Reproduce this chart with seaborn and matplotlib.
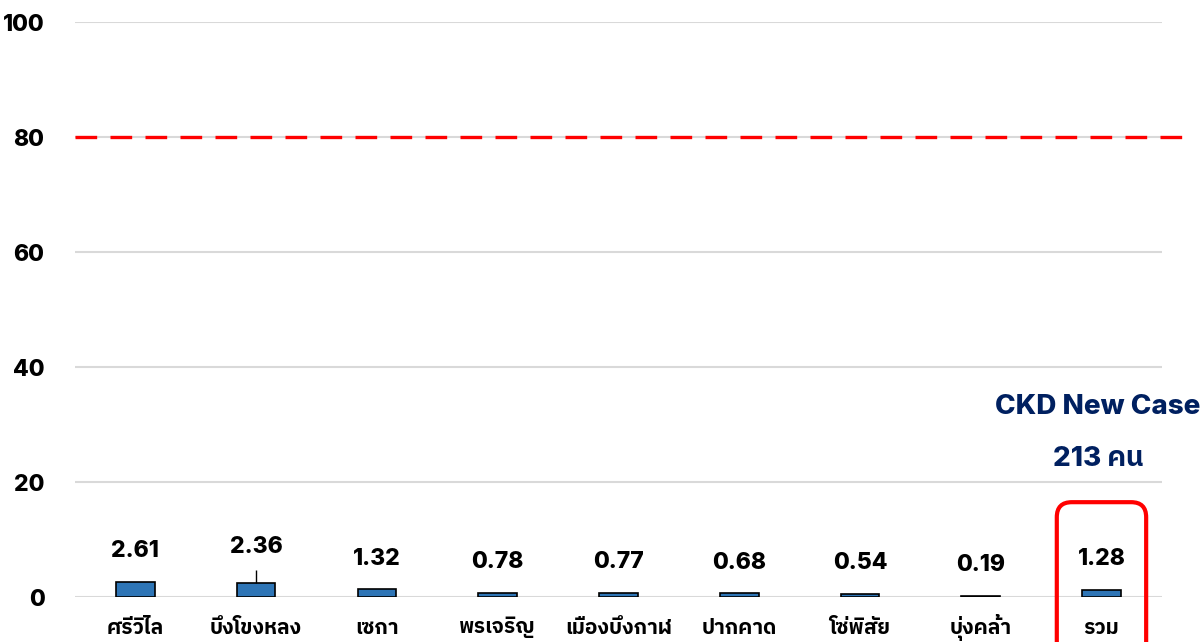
import matplotlib
matplotlib.use("Agg")
import matplotlib.pyplot as plt
from matplotlib.patches import FancyBboxPatch
import seaborn as sns
import pandas as pd
import numpy as np

categories = ["ศรีวิไล", "บึงโขงหลง", "เซกา", "พรเจริญ", "เมืองบึงกาฬ", "ปากคาด", "โซ่พิสัย", "บุ่งคล้า", "รวม"]
values = [2.61, 2.36, 1.32, 0.78, 0.77, 0.68, 0.54, 0.19, 1.28]
err_upper = [0, 2.3, 0, 0, 0, 0, 0, 0, 0]
y_ticks = [0, 20, 40, 60, 80, 100]
target = 80
note_lines = ["CKD New Case", "213 คน"]

sns.set_theme(style="white")
plt.rcParams["font.family"] = ["Inter", "IBM Plex Sans Thai", "Noto Sans Thai", "DejaVu Sans"]
W = 800

df = pd.DataFrame({"cat": categories, "val": values})
fig = plt.figure(figsize=(12.04, 6.42), dpi=100)
ax = fig.add_axes([0.0623, 0.070, 0.9027, 0.8957])
sns.barplot(data=df, x="cat", y="val", color="#2e75b6", width=0.32,
            edgecolor="black", linewidth=1.2, saturation=1, ax=ax, zorder=3)
ax.errorbar(np.arange(len(values)), values, yerr=[np.zeros(len(values)), err_upper],
            fmt="none", ecolor="black", elinewidth=1, capsize=0, zorder=4)
ax.set_ylim(0, 100)
ax.set_xlim(-0.5, len(categories) - 0.5)
ax.set_yticks(y_ticks)
ax.yaxis.grid(True, color="#d9d9d9", linewidth=1.5, zorder=0)
ax.set_axisbelow(True)
for s in ax.spines.values():
    s.set_visible(False)
ax.tick_params(axis="y", length=0, pad=22, labelsize=16.5, labelcolor="black")
ax.tick_params(axis="x", length=0, pad=22, labelsize=15, labelcolor="black")
for lab in ax.get_yticklabels():
    lab.set_fontweight(W)
for lab in ax.get_xticklabels():
    lab.set_fontweight(W)
    lab.set_verticalalignment("center")
ax.set_xlabel("")
ax.set_ylabel("")

ax.axhline(target, xmin=0, xmax=1.021, color="#ff0000", linewidth=2.4,
           dashes=(6.5, 4), clip_on=False, zorder=5)

for i, (v, e) in enumerate(zip(values, err_upper)):
    ax.annotate(f"{v:.2f}", (i, v + 0.45 * e), xytext=(0, 22), textcoords="offset points",
                ha="center", va="center", fontsize=16.5, fontweight=W, color="black")

n = len(categories) - 1
rx = 15 / 120.8
box = FancyBboxPatch((n - 0.37, -15), 0.74, 31.5,
                     boxstyle=f"round,pad=0,rounding_size={rx}",
                     mutation_aspect=120.8 / 5.75,
                     transform=ax.transData, fill=False, edgecolor="#ff0000",
                     linewidth=3, clip_on=False, zorder=6)
ax.add_patch(box)
ax.text(n - 0.03, 33.0, note_lines[0], ha="center", va="center", fontsize=20,
        fontweight=W, color="#002060")
ax.text(n - 0.03, 24.0, note_lines[1], ha="center", va="center", fontsize=20,
        fontweight=W, color="#002060")

fig.savefig("out.png", dpi=100)
